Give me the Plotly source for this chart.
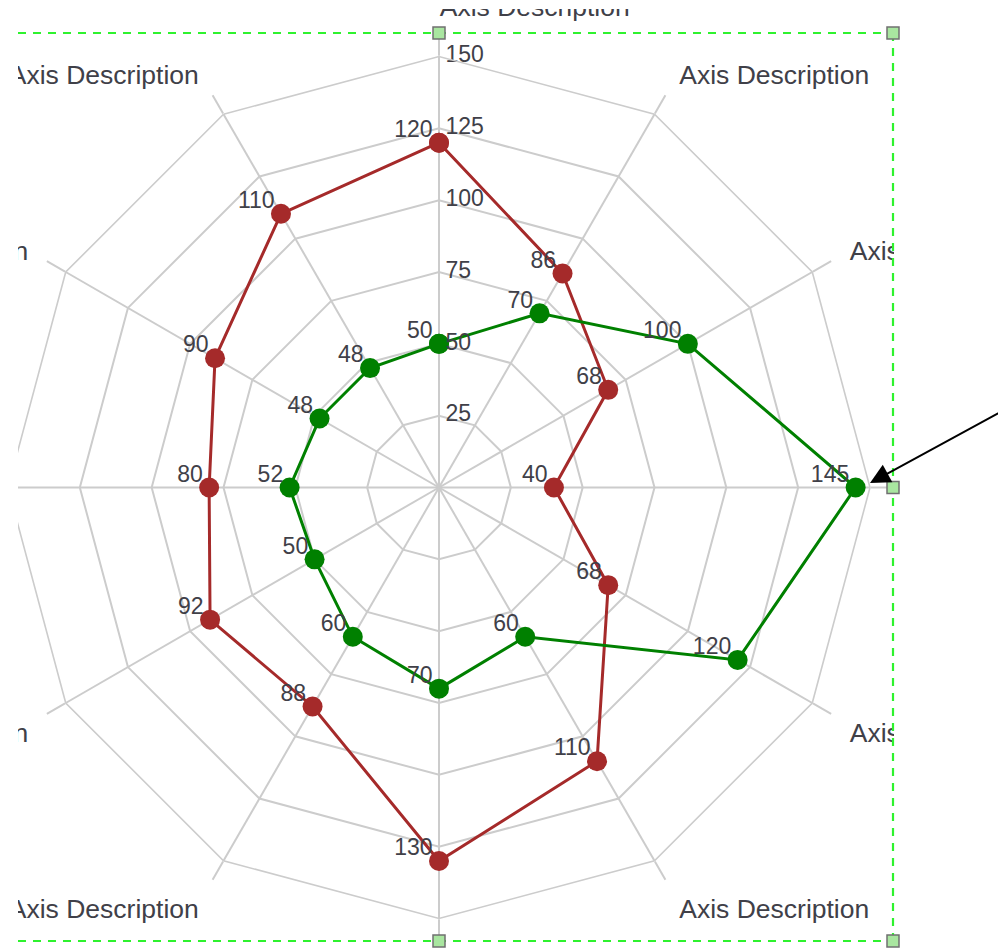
import plotly.graph_objects as go

# ---------------- data ----------------
categories = [f"Axis {i}" for i in range(1, 13)]
axis_labels = ["Axis Description"] * 12
red_values = [120, 86, 68, 40, 68, 110, 130, 88, 92, 80, 90, 110]
green_values = [50, 70, 100, 145, 120, 60, 70, 60, 50, 52, 48, 48]
radial_ticks = [25, 50, 75, 100, 125, 150]
radial_ticktext = ["25", "50", "75", "100", "125", "150"]

# ---------------- style ----------------
OFF = 8                      # page offset of the plot (body margin)
W, H = 1006 - OFF, 949 - OFF
CX, CY = 439, 487.5          # centre of the radar (page pixels)
RMAX = 150
R_PIX = 431                  # pixels of the 150 ring
GRID = "#cccccc"
GW = 1.6
TXT = "#404048"
FONT = "Liberation Sans, Arial, sans-serif"
RED = "#a52a2a"
GREEN = "#008000"
SEL = "#2ef22e"
NB = "\u00a0"


def px(x):
    return (x - OFF) / W


def py(y):
    return 1 - (y - OFF) / H


DOMAIN = dict(x=[px(CX - R_PIX), px(CX + R_PIX)], y=[py(CY + R_PIX), py(CY - R_PIX)])

fig = go.Figure()

for vals, col in [(red_values, RED), (green_values, GREEN)]:
    fig.add_trace(go.Scatterpolar(
        r=vals + [vals[0]],
        theta=categories + [categories[0]],
        mode="lines+markers",
        line=dict(color=col, width=3),
        marker=dict(color=col, size=20, opacity=1),
        hoverinfo="skip",
    ))

# radial tick labels (right of the vertical spoke)
fig.add_trace(go.Scatterpolar(
    r=radial_ticks, theta=[categories[0]] * len(radial_ticks),
    mode="text", text=[NB + t for t in radial_ticktext],
    textposition="middle right",
    textfont=dict(family=FONT, size=23, color=TXT),
    cliponaxis=False, hoverinfo="skip",
))

# value labels
for vals in [red_values, green_values]:
    fig.add_trace(go.Scatterpolar(
        r=vals, theta=categories, mode="text",
        text=[f"{v}{NB}" for v in vals],
        textposition="top left",
        textfont=dict(family=FONT, size=23, color=TXT),
        cliponaxis=False, hoverinfo="skip",
    ))

# invisible carrier so the label subplot gets the same categorical angular axis
fig.add_trace(go.Scatterpolar(
    r=[0] * len(categories), theta=categories, mode="markers",
    marker=dict(opacity=0), subplot="polar2", hoverinfo="skip",
))

# small text padding so the labels sit like the reference
n = len(axis_labels)
label_text = []
for i, t in enumerate(axis_labels):
    if i == 0:
        label_text.append(NB * 26 + t)        # top label is left-aligned at the spoke
    elif i < n / 2:
        label_text.append(NB + t)
    elif i == n / 2:
        label_text.append(t)
    else:
        label_text.append(t + NB)

fig.update_layout(
    width=W, height=H,
    margin=dict(l=0, r=0, t=0, b=0, pad=0),
    paper_bgcolor="white",
    showlegend=False,
    polar=dict(
        domain=DOMAIN,
        bgcolor="white",
        gridshape="linear",
        radialaxis=dict(
            range=[0, RMAX], tickmode="array", tickvals=radial_ticks,
            showticklabels=False, showline=False, ticks="",
            gridcolor=GRID, gridwidth=GW, angle=90,
        ),
        angularaxis=dict(
            rotation=90, direction="clockwise",
            showticklabels=False, showline=True, linecolor=GRID, linewidth=GW,
            ticks="outside", ticklen=21, tickcolor=GRID, tickwidth=GW,
            gridcolor=GRID, gridwidth=GW,
        ),
    ),
    polar2=dict(
        domain=DOMAIN,
        bgcolor="rgba(0,0,0,0)",
        gridshape="linear",
        radialaxis=dict(range=[0, RMAX], visible=False),
        angularaxis=dict(
            rotation=90, direction="clockwise", tickmode="array",
            tickvals=categories, ticktext=label_text,
            showgrid=False, showline=False,
            ticks="outside", ticklen=29, tickcolor="rgba(0,0,0,0)",
            tickfont=dict(family=FONT, size=26.5, color=TXT),
        ),
    ),
)

shapes = []
# crop masks (the reference is cut at the left, the right and the top)
shapes.append(dict(type="rect", xref="paper", yref="paper", x0=0, x1=px(18),
                   y0=0, y1=1, fillcolor="white", line=dict(width=0), layer="above"))
shapes.append(dict(type="rect", xref="paper", yref="paper", x0=px(894), x1=1,
                   y0=0, y1=1, fillcolor="white", line=dict(width=0), layer="above"))
shapes.append(dict(type="rect", xref="paper", yref="paper", x0=0, x1=1,
                   y0=py(9), y1=1, fillcolor="white", line=dict(width=0), layer="above"))
# dashed selection frame
BOX_L, BOX_R, BOX_T, BOX_B = 18, 893, 33, 941
for (x0, y0, x1, y1) in [(BOX_L, BOX_T, BOX_R, BOX_T), (BOX_L, BOX_B, BOX_R, BOX_B),
                         (BOX_R, BOX_T, BOX_R, BOX_B)]:
    shapes.append(dict(type="line", xref="paper", yref="paper",
                       x0=px(x0), y0=py(y0), x1=px(x1), y1=py(y1),
                       line=dict(color=SEL, width=2.2, dash="8px,7px"), layer="above"))
# handles
for (hx, hy) in [(CX, BOX_T), (BOX_R, BOX_T), (BOX_R, CY), (BOX_R, BOX_B), (CX, BOX_B)]:
    shapes.append(dict(type="rect", xref="paper", yref="paper",
                       x0=px(hx - 6), x1=px(hx + 6), y0=py(hy + 6), y1=py(hy - 6),
                       fillcolor="#a9e6a0", line=dict(color="#707070", width=1.5),
                       layer="above"))
fig.update_layout(shapes=shapes)

fig.add_annotation(
    xref="paper", yref="paper", x=px(870), y=py(483),
    ax=150, ay=-74, axref="pixel", ayref="pixel",
    text="", showarrow=True, arrowhead=2, arrowsize=2, arrowwidth=2,
    arrowcolor="black", standoff=0,
)

fig.write_html("out.html")
